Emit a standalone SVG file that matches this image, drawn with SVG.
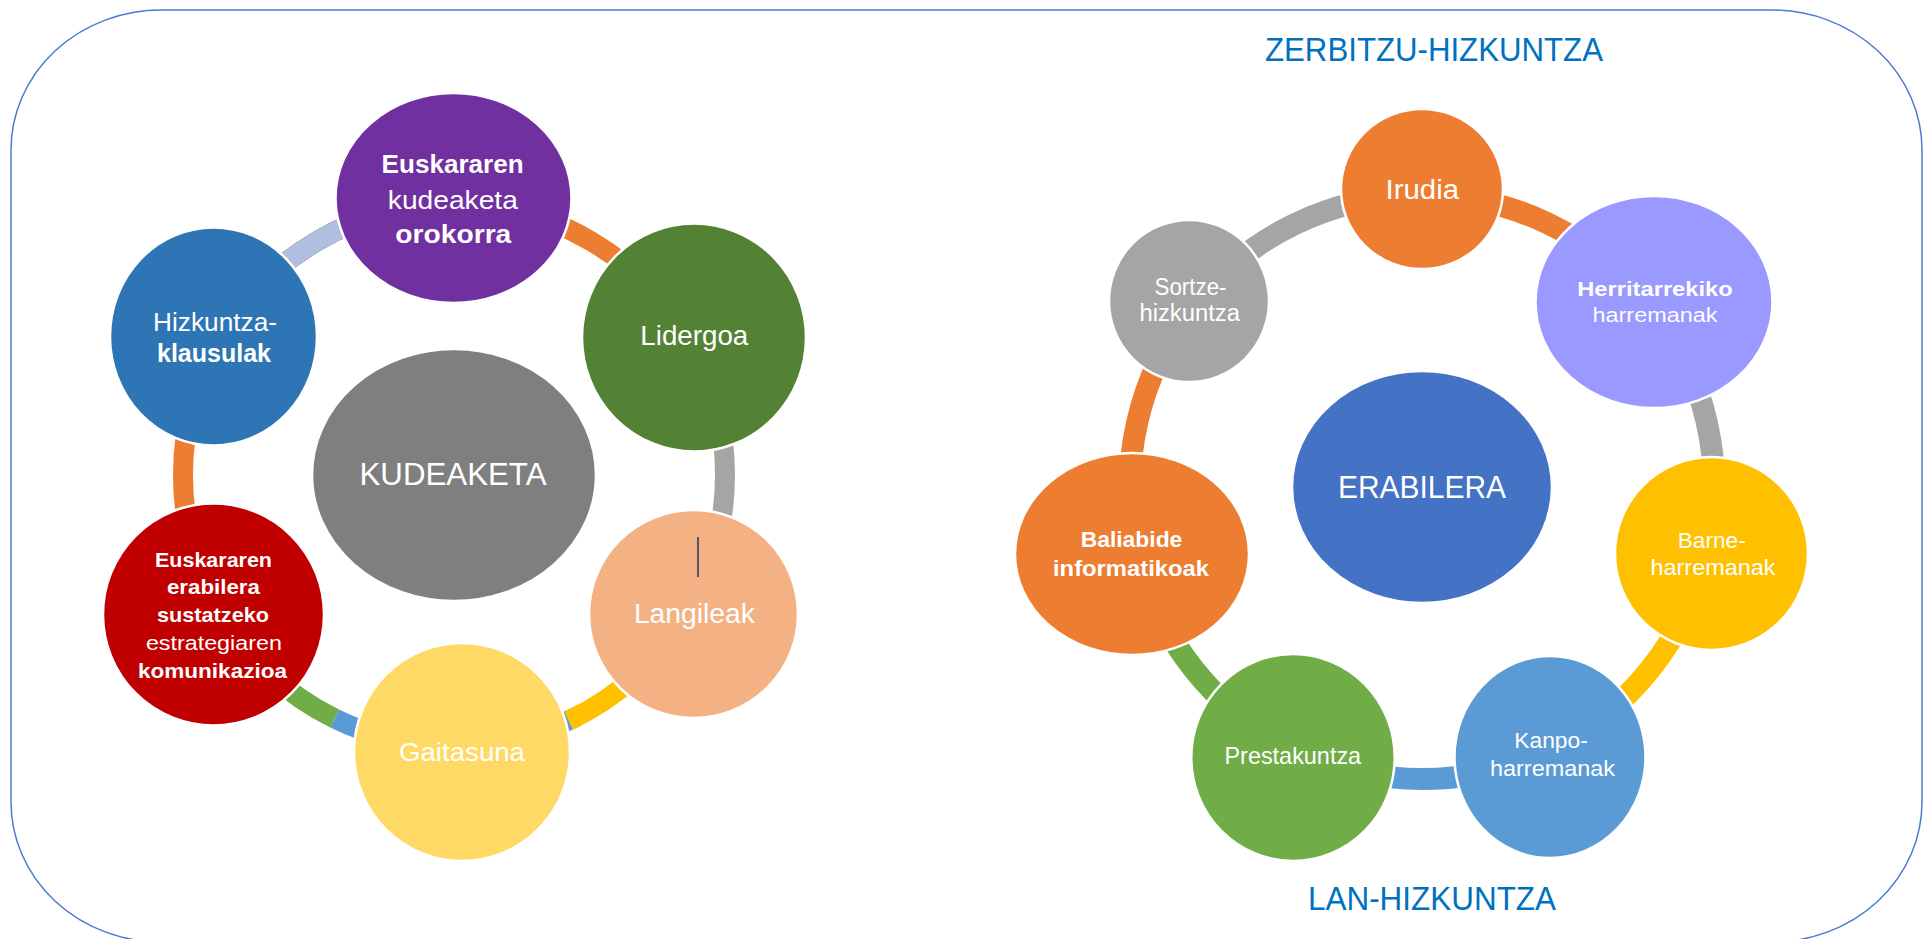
<svg xmlns="http://www.w3.org/2000/svg" width="1925" height="939" viewBox="0 0 1925 939">
<style>
.t{font-family:"Liberation Sans",Arial,sans-serif;fill:#fff;text-anchor:middle}
.b{font-weight:bold}
.ttl{font-family:"Liberation Sans",Arial,sans-serif;fill:#0070C0;text-anchor:middle;font-size:33px}
.n{stroke:#fff;stroke-width:2.5}
.c{fill:none;stroke-width:20}
.cr{fill:none;stroke-width:22}
</style>
<rect x="11" y="10" width="1911" height="932" rx="150" ry="140" fill="#fff" stroke="#4A7BD0" stroke-width="1.5"/>
<g id="connectors">
  <path class="c" stroke="#ED7D31" d="M454,204 A271,271 0 0 1 688.7,339.5"/>
  <path class="c" stroke="#A5A5A5" d="M688.7,339.5 A271,271 0 0 1 688.7,610.5"/>
  <path class="c" stroke="#5B9BD5" d="M577,716.5 A271,271 0 0 1 334.6,718.5"/>
  <path class="c" stroke="#FFC000" d="M688.7,610.5 A271,271 0 0 1 568.5,720.6"/>
  <path class="c" stroke="#70AD47" d="M334.6,718.5 A271,271 0 0 1 219.3,610.5"/>
  <path class="c" stroke="#ED7D31" d="M219.3,610.5 A271,271 0 0 1 219.3,339.5"/>
  <path class="c" stroke="#3A3A3A" stroke-width="22" d="M219.3,339.5 A271,271 0 0 1 454,204"/>
  <path class="c" stroke="#B0BEE0" stroke-width="18.5" d="M219.3,339.5 A271,271 0 0 1 454,204"/>
  <path class="cr" stroke="#A5A5A5" d="M1193.7,304.9 A292,292 0 0 1 1422,195"/>
  <path class="cr" stroke="#ED7D31" d="M1422,195 A292,292 0 0 1 1650.3,304.9"/>
  <path class="cr" stroke="#A5A5A5" d="M1650.3,304.9 A292,292 0 0 1 1706.7,552"/>
  <path class="cr" stroke="#FFC000" d="M1706.7,552 A292,292 0 0 1 1548.7,750.1"/>
  <path class="cr" stroke="#5B9BD5" d="M1548.7,750.1 A292,292 0 0 1 1295.3,750.1"/>
  <path class="cr" stroke="#70AD47" d="M1295.3,750.1 A292,292 0 0 1 1137.3,552"/>
  <path class="cr" stroke="#ED7D31" d="M1137.3,552 A292,292 0 0 1 1193.7,304.9"/>
</g>
<g id="kudeaketa">
  <ellipse class="n" cx="454" cy="475" rx="142" ry="126" fill="#7F7F7F"/>
  <text class="t" x="453" y="485" font-size="31" textLength="187" lengthAdjust="spacingAndGlyphs">KUDEAKETA</text>
</g>
<g id="euskararen-kudeaketa">
  <ellipse class="n" cx="453.5" cy="198" rx="118" ry="105" fill="#7030A0"/>
  <text class="t b" x="452.6" y="173" font-size="26" textLength="142" lengthAdjust="spacingAndGlyphs">Euskararen</text>
  <text class="t" x="452.8" y="209" font-size="26" textLength="130" lengthAdjust="spacingAndGlyphs">kudeaketa</text>
  <text class="t b" x="453.3" y="243" font-size="26" textLength="116" lengthAdjust="spacingAndGlyphs">orokorra</text>
</g>
<g id="lidergoa">
  <ellipse class="n" cx="694" cy="337.5" rx="112" ry="114" fill="#548235"/>
  <text class="t" x="694.3" y="345" font-size="27" textLength="108" lengthAdjust="spacingAndGlyphs">Lidergoa</text>
</g>
<g id="langileak">
  <ellipse class="n" cx="693.5" cy="614" rx="104.5" ry="104" fill="#F4B183"/>
  <line x1="698" y1="537" x2="698" y2="577" stroke="#1F3864" stroke-width="1.5"/>
  <text class="t" x="694.4" y="623" font-size="27" textLength="121" lengthAdjust="spacingAndGlyphs">Langileak</text>
</g>
<g id="gaitasuna">
  <ellipse class="n" cx="462" cy="752" rx="108" ry="109" fill="#FFD966"/>
  <text class="t" x="462" y="761" font-size="26" textLength="126" lengthAdjust="spacingAndGlyphs">Gaitasuna</text>
</g>
<g id="komunikazioa">
  <ellipse class="n" cx="213.5" cy="614.5" rx="110.5" ry="111" fill="#C00000"/>
  <text class="t b" x="213.5" y="566.7" font-size="20.5" textLength="117" lengthAdjust="spacingAndGlyphs">Euskararen</text>
  <text class="t b" x="213.4" y="594.3" font-size="20.5" textLength="93" lengthAdjust="spacingAndGlyphs">erabilera</text>
  <text class="t b" x="213" y="622" font-size="20.5" textLength="112" lengthAdjust="spacingAndGlyphs">sustatzeko</text>
  <text class="t" x="213.9" y="650" font-size="20.5" textLength="136" lengthAdjust="spacingAndGlyphs">estrategiaren</text>
  <text class="t b" x="212.5" y="678" font-size="20.5" textLength="149" lengthAdjust="spacingAndGlyphs">komunikazioa</text>
</g>
<g id="hizkuntza-klausulak">
  <ellipse class="n" cx="213.5" cy="336.5" rx="103.5" ry="109" fill="#2E75B6"/>
  <text class="t" x="215" y="331" font-size="26" textLength="124" lengthAdjust="spacingAndGlyphs">Hizkuntza-</text>
  <text class="t b" x="214" y="362" font-size="26" textLength="114" lengthAdjust="spacingAndGlyphs">klausulak</text>
</g>
<g id="zerbitzu-hizkuntza">
  <text class="ttl" x="1434" y="61" textLength="338" lengthAdjust="spacingAndGlyphs">ZERBITZU-HIZKUNTZA</text>
</g>
<g id="lan-hizkuntza">
  <text class="ttl" x="1432" y="910" textLength="248" lengthAdjust="spacingAndGlyphs">LAN-HIZKUNTZA</text>
</g>
<g id="erabilera">
  <ellipse class="n" cx="1422" cy="487" rx="130" ry="116" fill="#4472C4"/>
  <text class="t" x="1422" y="498" font-size="31" textLength="168" lengthAdjust="spacingAndGlyphs">ERABILERA</text>
</g>
<g id="irudia">
  <ellipse class="n" cx="1422" cy="189" rx="81" ry="80" fill="#ED7D31"/>
  <text class="t" x="1422.3" y="199" font-size="27" textLength="73.5" lengthAdjust="spacingAndGlyphs">Irudia</text>
</g>
<g id="herritarrekiko">
  <ellipse class="n" cx="1654" cy="302" rx="118.5" ry="106" fill="#9999FF"/>
  <text class="t b" x="1655" y="296" font-size="20.5" textLength="155.5" lengthAdjust="spacingAndGlyphs">Herritarrekiko</text>
  <text class="t" x="1655" y="322" font-size="20.5" textLength="125" lengthAdjust="spacingAndGlyphs">harremanak</text>
</g>
<g id="barne-harremanak">
  <ellipse class="n" cx="1711.5" cy="553.5" rx="96.5" ry="96.5" fill="#FFC000"/>
  <text class="t" x="1711.7" y="548" font-size="22" textLength="68" lengthAdjust="spacingAndGlyphs">Barne-</text>
  <text class="t" x="1713" y="575" font-size="22" textLength="125" lengthAdjust="spacingAndGlyphs">harremanak</text>
</g>
<g id="kanpo-harremanak">
  <ellipse class="n" cx="1550" cy="757" rx="95.5" ry="101" fill="#5B9BD5"/>
  <text class="t" x="1551" y="748" font-size="22" textLength="73.5" lengthAdjust="spacingAndGlyphs">Kanpo-</text>
  <text class="t" x="1552.5" y="776" font-size="22" textLength="125" lengthAdjust="spacingAndGlyphs">harremanak</text>
</g>
<g id="prestakuntza">
  <ellipse class="n" cx="1293" cy="757.5" rx="101.7" ry="103.5" fill="#70AD47"/>
  <text class="t" x="1292.8" y="764" font-size="24" textLength="136.6" lengthAdjust="spacingAndGlyphs">Prestakuntza</text>
</g>
<g id="baliabide-informatikoak">
  <ellipse class="n" cx="1132" cy="554" rx="117" ry="101" fill="#ED7D31"/>
  <text class="t b" x="1131.5" y="547" font-size="21.5" textLength="101.7" lengthAdjust="spacingAndGlyphs">Baliabide</text>
  <text class="t b" x="1131" y="576" font-size="21.5" textLength="156" lengthAdjust="spacingAndGlyphs">informatikoak</text>
</g>
<g id="sortze-hizkuntza">
  <ellipse class="n" cx="1189" cy="301" rx="80" ry="81" fill="#A5A5A5"/>
  <text class="t" x="1190.5" y="295" font-size="23" textLength="72" lengthAdjust="spacingAndGlyphs">Sortze-</text>
  <text class="t" x="1189.7" y="321" font-size="23" textLength="100.5" lengthAdjust="spacingAndGlyphs">hizkuntza</text>
</g>
</svg>
